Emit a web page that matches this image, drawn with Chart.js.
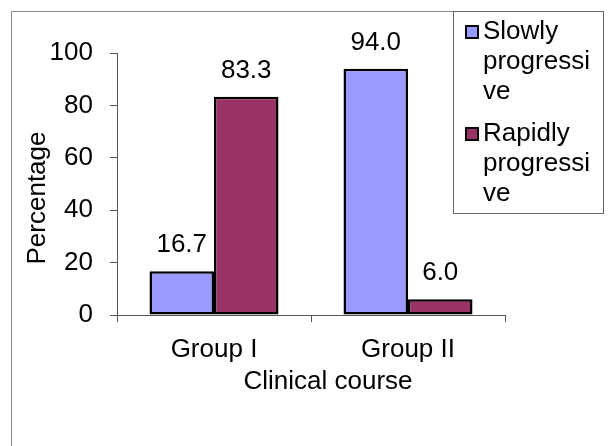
<!DOCTYPE html>
<html>
<head>
<meta charset="utf-8">
<script src="https://cdn.jsdelivr.net/npm/chart.js@4/dist/chart.umd.min.js"></script>
<style>
  body { margin: 0; background: #fff; }
  canvas { display: block; }
</style>
</head>
<body>
<canvas id="myChart" width="610" height="446"></canvas>
<script>
const categories = ['Group I', 'Group II'];
const seriesNames = ['Slowly progressive', 'Rapidly progressive'];
const slowlyValues = [16.7, 94.0];
const rapidlyValues = [83.3, 6.0];
const yTicks = [0, 20, 40, 60, 80, 100];
const xTitle = 'Clinical course';
const yTitle = 'Percentage';

const FONT = '"Liberation Sans", Arial, sans-serif';
const colors = ['#9999FF', '#993366'];

// outer border, axis titles, value labels and the wrapped legend
const decorations = {
  id: 'decorations',
  beforeDraw(chart) {
    const ctx = chart.ctx;
    ctx.save();
    ctx.strokeStyle = '#888';
    ctx.lineWidth = 1;
    ctx.beginPath();
    ctx.moveTo(11.5, 446);
    ctx.lineTo(11.5, 11.5);
    ctx.lineTo(603, 11.5);
    ctx.stroke();
    ctx.restore();
  },
  afterDatasetsDraw(chart) {
    const ctx = chart.ctx;
    ctx.save();
    ctx.fillStyle = '#000';
    ctx.font = '26px ' + FONT;
    ctx.textAlign = 'center';
    ctx.textBaseline = 'alphabetic';
    chart.data.datasets.forEach((ds, i) => {
      chart.getDatasetMeta(i).data.forEach((bar, j) => {
        ctx.fillText(ds.data[j].toFixed(1), bar.x, bar.y - 19);
      });
    });
    ctx.restore();
  },
  afterDraw(chart) {
    const ctx = chart.ctx;
    ctx.save();
    ctx.fillStyle = '#000';
    ctx.font = '26px ' + FONT;

    // axis titles
    ctx.textAlign = 'center';
    ctx.textBaseline = 'alphabetic';
    ctx.fillText(xTitle, 328, 389);
    ctx.save();
    ctx.translate(38, 198);
    ctx.rotate(-Math.PI / 2);
    ctx.textBaseline = 'middle';
    ctx.fillText(yTitle, 0, 0);
    ctx.restore();

    // legend box
    ctx.fillStyle = '#fff';
    ctx.fillRect(453, 11, 150, 202);
    ctx.strokeStyle = '#666';
    ctx.lineWidth = 1;
    ctx.strokeRect(453.5, 11.5, 150, 202);

    const maxW = 115;
    const wrap = (text) => {
      const lines = [];
      let line = '';
      text.split(' ').forEach((word) => {
        const trial = line ? line + ' ' + word : word;
        if (ctx.measureText(trial).width <= maxW) {
          line = trial;
          return;
        }
        if (line) lines.push(line);
        line = '';
        for (const ch of word) {
          if (ctx.measureText(line + ch).width > maxW) {
            lines.push(line);
            line = ch;
          } else {
            line += ch;
          }
        }
      });
      if (line) lines.push(line);
      return lines;
    };

    ctx.textAlign = 'left';
    chart.data.datasets.forEach((ds, i) => {
      const base = 39 + i * 102;
      ctx.fillStyle = ds.backgroundColor;
      ctx.fillRect(466, base - 13, 12, 12);
      ctx.strokeStyle = '#000';
      ctx.lineWidth = 2;
      ctx.strokeRect(466, base - 13, 12, 12);
      ctx.fillStyle = '#000';
      wrap(ds.label).forEach((l, k) => {
        ctx.fillText(l, 483, base + k * 30);
      });
    });
    ctx.restore();
  },
};

const myChart = new Chart(document.getElementById('myChart'), {
  type: 'bar',
  data: {
    labels: categories,
    datasets: [
      {
        label: seriesNames[0],
        data: slowlyValues,
        backgroundColor: colors[0],
        borderColor: '#000',
        borderWidth: 2.5,
        borderSkipped: false,
      },
      {
        label: seriesNames[1],
        data: rapidlyValues,
        backgroundColor: colors[1],
        borderColor: '#000',
        borderWidth: 2.5,
        borderSkipped: false,
      },
    ],
  },
  options: {
    responsive: false,
    devicePixelRatio: 1,
    animation: false,
    categoryPercentage: 0.665,
    barPercentage: 1.0,
    layout: { padding: { top: 53, right: 105, bottom: 0, left: 0 } },
    plugins: {
      legend: { display: false },
      tooltip: { enabled: false },
    },
    scales: {
      x: {
        grid: { drawOnChartArea: false, tickLength: 7, color: '#555', offset: true },
        border: { color: '#555' },
        ticks: { color: '#000', font: { family: FONT, size: 26 }, padding: 12 },
        afterFit: (scale) => { scale.height = 131; },
      },
      y: {
        min: 0,
        max: 100,
        afterBuildTicks: (scale) => { scale.ticks = yTicks.map((v) => ({ value: v })); },
        grid: { drawOnChartArea: false, tickLength: 7, color: '#555' },
        border: { color: '#555' },
        ticks: { color: '#000', font: { family: FONT, size: 26 }, padding: 17 },
        afterFit: (scale) => { scale.width = 117; },
      },
    },
  },
  plugins: [decorations],
});
</script>
</body>
</html>
